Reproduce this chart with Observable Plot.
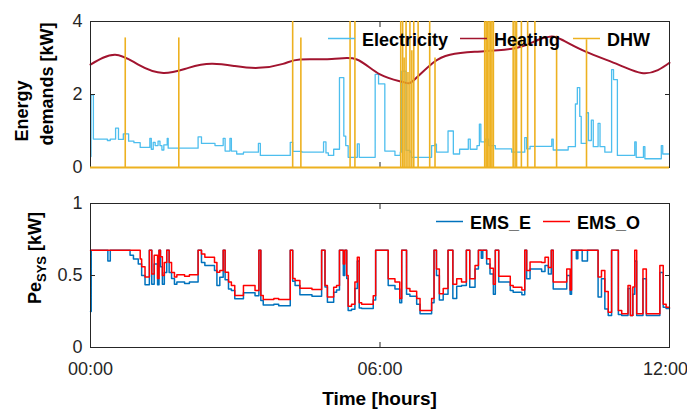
<!DOCTYPE html>
<html>
<head>
<meta charset="utf-8">
<script src="https://cdn.jsdelivr.net/npm/d3@7"></script>
<script src="https://cdn.jsdelivr.net/npm/@observablehq/plot@0.6"></script>
<style>
  body { margin: 0; background: #fff; }
  #chart { width: 687px; height: 410px; font-family: "Liberation Sans", Arial, sans-serif; }
  #chart svg { display: block; }
</style>
</head>
<body>
<div id="chart"></div>
<script>
// ---- Energy demands (hours, kW) ----
const elecTime = [0.00, 0.01, 0.06, 0.35, 0.41, 0.52, 0.58, 0.68, 0.79, 0.90, 1.03, 1.23, 1.26, 1.30, 1.34, 1.40, 1.44, 1.48, 1.52, 1.59, 1.61,
  2.23, 2.30, 2.58, 2.75, 2.79, 2.89, 2.92, 3.03, 3.17, 3.48, 3.52, 4.14, 4.19, 4.38, 4.83, 4.88, 4.93, 5.04, 5.16, 5.25, 5.29, 5.34,
  5.53, 5.57, 5.90, 5.97, 6.10, 6.31, 6.42, 6.45, 6.54, 6.62, 6.65, 7.07, 7.14, 7.17, 7.41, 7.52, 7.65, 7.83, 7.87, 8.01, 8.06, 8.09,
  8.18, 8.25, 8.39, 8.73, 9.00, 9.04, 9.11, 9.56, 9.59, 9.90, 10.05, 10.09, 10.14, 10.17, 10.28, 10.32, 10.38, 10.42, 10.52, 10.56,
  10.66, 10.80, 10.84, 10.92, 11.28, 11.31, 11.46, 11.49, 11.83, 11.86, 12.00];
const elecKW = [0.30, 1.99, 0.78, 0.74, 0.78, 1.08, 0.77, 0.92, 0.72, 0.68, 0.55, 0.80, 0.50, 0.69, 0.60, 0.72, 0.60, 0.48, 0.62, 0.80, 0.53,
  0.84, 0.66, 0.60, 0.80, 0.45, 0.80, 0.45, 0.37, 0.42, 0.66, 0.33, 0.69, 0.44, 0.42, 0.70, 0.40, 0.33, 0.50, 2.46, 0.86, 0.60, 0.28,
  0.65, 0.28, 2.55, 2.29, 0.45, 0.33, 0.42, 2.64, 0.47, 0.42, 0.28, 0.60, 0.64, 0.42, 1.00, 0.37, 0.50, 0.78, 0.50, 0.60, 1.19, 0.70,
  0.78, 0.60, 0.51, 0.42, 0.82, 0.51, 0.58, 0.78, 0.48, 0.57, 1.74, 2.19, 1.40, 0.66, 1.50, 0.74, 1.30, 0.57, 1.21, 0.57,
  0.42, 2.68, 2.41, 0.33, 0.70, 0.28, 0.57, 0.24, 0.60, 0.37, 0.37];

const heatTime = [0.00, 0.51, 0.99, 1.51, 2.03, 2.51, 2.99, 3.48, 3.99, 4.34, 5.00, 5.52, 6.00, 6.48, 6.69, 7.10, 7.45, 7.96,
  8.80, 9.28, 9.56, 9.77, 10.25, 10.94, 11.42, 11.76, 12.00];
const heatKW = [2.82, 3.09, 2.82, 2.59, 2.73, 2.84, 2.78, 2.73, 2.84, 2.96, 2.97, 2.96, 2.55, 2.34, 2.38, 2.87, 3.09, 3.17,
  3.27, 3.50, 3.59, 3.50, 3.18, 2.82, 2.59, 2.67, 2.87];

const dhwTime = [0.72, 1.83, 4.19, 4.36, 5.38, 5.48, 6.43, 6.47, 6.50, 6.54, 6.58, 6.62, 6.66, 6.70, 6.79, 7.03, 7.14,
  8.17, 8.20, 8.23, 8.26, 8.29, 8.32, 8.35, 8.76, 8.80, 8.83, 8.93, 9.06, 9.21, 9.66, 10.28];
const dhwKW = [3.55, 3.55, 4.40, 3.55, 4.40, 4.40, 4.40, 4.40, 3.00, 4.40, 2.60, 4.40, 3.20, 4.40, 4.40, 4.40, 3.00,
  4.40, 4.40, 4.40, 4.40, 4.40, 4.40, 4.40, 4.40, 4.40, 4.40, 4.40, 4.40, 4.40, 3.60, 3.50];

// ---- System electric power for the two EMS strategies (hours, kW) ----
const emsTime = [0.00, 0.015, 0.36, 0.41, 0.82, 0.89, 0.99, 1.03, 1.06, 1.13, 1.22, 1.27, 1.32, 1.39, 1.42, 1.45, 1.49, 1.53, 1.58,
  1.63, 1.68, 1.74, 1.79, 1.95, 2.05, 2.23, 2.30, 2.37, 2.57, 2.62, 2.68, 2.75, 2.79, 2.86, 2.92, 2.99, 3.17, 3.41, 3.49, 3.53,
  3.58, 3.80, 3.90, 4.14, 4.19, 4.24, 4.34, 4.59, 4.79, 4.86, 4.91, 5.04, 5.10, 5.16, 5.24, 5.27, 5.31, 5.34, 5.41, 5.48, 5.53,
  5.57, 5.62, 5.86, 5.91, 6.17, 6.31, 6.41, 6.45, 6.55, 6.62, 6.76, 6.83, 7.07, 7.12, 7.17, 7.23, 7.31, 7.41, 7.51, 7.59, 7.69,
  7.79, 7.86, 7.97, 8.04, 8.10, 8.13, 8.21, 8.28, 8.35, 8.39, 8.46, 8.70, 8.76, 8.94, 9.00, 9.04, 9.11, 9.35, 9.42, 9.49, 9.55,
  9.59, 9.87, 9.94, 9.97, 10.07, 10.10, 10.19, 10.30, 10.52, 10.59, 10.66, 10.73, 10.80, 10.94, 11.01, 11.14, 11.19, 11.24,
  11.28, 11.32, 11.45, 11.52, 11.80, 11.87, 11.93, 12.00];
const emsE = [0.25, 0.675, 0.60, 0.675, 0.64, 0.615, 0.58, 0.58, 0.50, 0.435, 0.675, 0.44, 0.58, 0.435, 0.675, 0.56, 0.44, 0.52, 0.675,
  0.52, 0.48, 0.44, 0.455, 0.445, 0.455, 0.675, 0.59, 0.57, 0.535, 0.43, 0.488, 0.675, 0.47, 0.407, 0.396, 0.338, 0.38, 0.36, 0.675, 0.326,
  0.296, 0.30, 0.29, 0.675, 0.46, 0.43, 0.366, 0.356, 0.675, 0.42, 0.315, 0.384, 0.40, 0.675, 0.50, 0.675, 0.48, 0.257, 0.266, 0.41, 0.60,
  0.275, 0.27, 0.33, 0.675, 0.43, 0.407, 0.31, 0.675, 0.37, 0.356, 0.30, 0.234, 0.31, 0.675, 0.50, 0.33, 0.37, 0.675, 0.34, 0.426, 0.43,
  0.675, 0.419, 0.546, 0.675, 0.62, 0.675, 0.58, 0.51, 0.37, 0.675, 0.454, 0.396, 0.384, 0.366, 0.675, 0.477, 0.546, 0.527, 0.57, 0.51, 0.675,
  0.407, 0.50, 0.37, 0.675, 0.616, 0.675, 0.60, 0.675, 0.35, 0.477, 0.268, 0.222, 0.675, 0.23, 0.222, 0.41, 0.222, 0.37,
  0.60, 0.222, 0.477, 0.222, 0.52, 0.28, 0.27, 0.27];
const emsO = [0.675, 0.675, 0.675, 0.675, 0.675, 0.675, 0.675, 0.615, 0.56, 0.49, 0.675, 0.51, 0.64, 0.48, 0.675, 0.63, 0.50, 0.59, 0.675,
  0.59, 0.52, 0.49, 0.505, 0.495, 0.505, 0.675, 0.65, 0.627, 0.59, 0.523, 0.535, 0.675, 0.523, 0.454, 0.43, 0.361, 0.43, 0.396, 0.675, 0.361,
  0.333, 0.34, 0.333, 0.675, 0.48, 0.465, 0.412, 0.403, 0.675, 0.43, 0.35, 0.419, 0.43, 0.675, 0.58, 0.675, 0.50, 0.287, 0.30, 0.454, 0.627,
  0.31, 0.30, 0.36, 0.675, 0.477, 0.454, 0.34, 0.675, 0.41, 0.39, 0.34, 0.257, 0.34, 0.675, 0.546, 0.373, 0.41, 0.675, 0.44, 0.477, 0.454,
  0.675, 0.477, 0.57, 0.675, 0.675, 0.675, 0.616, 0.55, 0.44, 0.675, 0.495, 0.43, 0.419, 0.40, 0.675, 0.535, 0.593, 0.59, 0.627, 0.556, 0.675,
  0.454, 0.546, 0.40, 0.675, 0.675, 0.675, 0.675, 0.675, 0.49, 0.535, 0.389, 0.245, 0.675, 0.257, 0.234, 0.43, 0.222, 0.42,
  0.675, 0.234, 0.546, 0.234, 0.57, 0.30, 0.28, 0.28];

const hourTicks = [0, 6, 12];
const energyTicks = [0, 2, 4];
const powerTicks = [0, 0.5, 1];

// ---- styling ----
const FONT = '"Liberation Sans", Arial, sans-serif';
const INK = "#262626";
const C_ELEC = "#4DBEEE", C_HEAT = "#A2142F", C_DHW = "#EDB120";
const C_EMS_E = "#0072BD", C_EMS_O = "#FF0000";

const elec = elecTime.map((t, i) => ({t, v: elecKW[i]}));
const heat = heatTime.map((t, i) => ({t, v: heatKW[i]}));
const dhw = dhwTime.map((t, i) => ({t, v: dhwKW[i]}));
const ems = emsTime.map((t, i) => ({t, e: emsE[i], o: emsO[i]}));

const fmtHour = h => String(h).padStart(2, "0") + ":00";
const common = {
  width: 687,
  marginLeft: 90,
  marginRight: 18,
  style: {fontFamily: FONT, fontSize: "18px", color: INK, background: "white", overflow: "visible"},
  x: {domain: [0, 12]}
};
// inward ticks on all four sides, labels only left and bottom
function boxAxes(yTicks, xLabels) {
  const marks = [
    Plot.frame({stroke: INK, strokeWidth: 1}),
    Plot.axisY({anchor: "left", ticks: yTicks, tickSize: -5, tickPadding: 13, tickFormat: d => String(d), label: null}),
    Plot.axisY({anchor: "right", ticks: yTicks, tickSize: -5, tickFormat: () => "", label: null}),
    Plot.axisX({anchor: "bottom", ticks: hourTicks, tickSize: -5, tickFormat: () => "", label: null}),
    Plot.axisX({anchor: "top", ticks: hourTicks, tickSize: -5, tickFormat: () => "", label: null})
  ];
  if (xLabels) {
    // last label nudged left so it stays inside the page
    marks.push(Plot.axisX({anchor: "bottom", ticks: hourTicks.slice(0, -1), tickSize: 0, tickPadding: 15, tickFormat: fmtHour, label: null}));
    marks.push(Plot.axisX({anchor: "bottom", ticks: hourTicks.slice(-1), tickSize: 0, tickPadding: 15, dx: -4, tickFormat: fmtHour, label: null}));
  }
  return marks;
}

const topPlot = Plot.plot({
  ...common,
  height: 185,
  marginTop: 21,
  marginBottom: 18,
  y: {domain: [0, 4]},
  marks: [
    Plot.line(elec, {x: "t", y: "v", curve: "step-after", stroke: C_ELEC, strokeWidth: 1.3, clip: true}),
    Plot.line(heat, {x: "t", y: "v", curve: "natural", stroke: C_HEAT, strokeWidth: 2}),
    ...boxAxes(energyTicks, false),
    Plot.ruleX(dhw, {x: "t", y1: 0, y2: "v", stroke: C_DHW, strokeWidth: 1.6, clip: true}),
    Plot.ruleY([0], {stroke: C_DHW, strokeWidth: 2})
  ]
});

const bottomPlot = Plot.plot({
  ...common,
  height: 225,
  marginTop: 18,
  marginBottom: 63,
  y: {domain: [0, 1]},
  marks: [
    Plot.line(ems, {x: "t", y: "e", curve: "step-after", stroke: C_EMS_E, strokeWidth: 1.5}),
    Plot.line(ems, {x: "t", y: "o", curve: "step-after", stroke: C_EMS_O, strokeWidth: 1.5}),
    ...boxAxes(powerTicks, true)
  ]
});

// legends and axis titles
function legend(svg, items, y) {
  const g = d3.select(svg).append("g")
    .attr("font-family", FONT).attr("font-size", 18).attr("font-weight", "bold").attr("text-anchor", "start");
  for (const it of items) {
    g.append("line").attr("x1", it.x).attr("x2", it.x + 27).attr("y1", y).attr("y2", y)
      .attr("stroke", it.color).attr("stroke-width", 1.5);
    g.append("text").attr("x", it.x + 34).attr("y", y + 7).attr("fill", "#000").text(it.label);
  }
}
legend(topPlot, [
  {x: 328, label: "Electricity", color: C_ELEC},
  {x: 460, label: "Heating", color: C_HEAT},
  {x: 573, label: "DHW", color: C_DHW}
], 38.5);
legend(bottomPlot, [
  {x: 436, label: "EMS_E", color: C_EMS_E},
  {x: 543, label: "EMS_O", color: C_EMS_O}
], 36.5);

function yTitle(svg, x, y, build) {
  const t = d3.select(svg).append("text")
    .attr("transform", `translate(${x},${y}) rotate(-90)`)
    .attr("text-anchor", "middle")
    .attr("font-family", FONT).attr("font-size", 18).attr("font-weight", "bold").attr("fill", "#000");
  build(t);
}
yTitle(topPlot, 28, 111, t => t.text("Energy"));
yTitle(topPlot, 53, 84, t => t.text("demands [kW]"));
yTitle(bottomPlot, 41, 73, t => {
  t.append("tspan").text("Pe");
  t.append("tspan").attr("font-size", 13).attr("dy", 5).text("SYS");
  t.append("tspan").attr("dy", -5).text(" [kW]");
});
d3.select(bottomPlot).append("text")
  .attr("x", 379.5).attr("y", 220)
  .attr("text-anchor", "middle")
  .attr("font-family", FONT).attr("font-size", 19).attr("font-weight", "bold").attr("fill", "#000")
  .text("Time [hours]");

const root = document.getElementById("chart");
root.append(topPlot, bottomPlot);
</script>
</body>
</html>
